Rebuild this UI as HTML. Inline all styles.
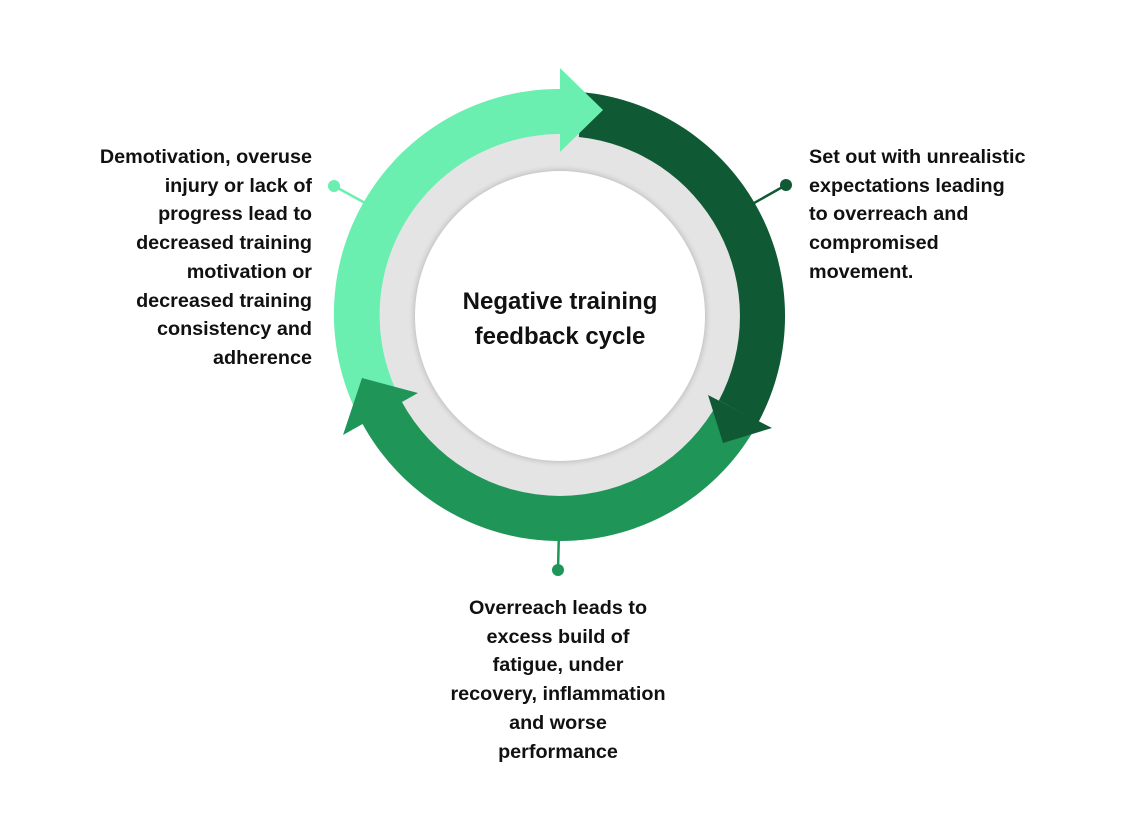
<!DOCTYPE html>
<html><head><meta charset="utf-8"><style>
html,body{margin:0;padding:0;background:#fff;}
body{width:1134px;height:814px;position:relative;overflow:hidden;font-family:"Liberation Sans",Arial,sans-serif;}
.t{position:absolute;font-weight:bold;font-size:19.8px;line-height:28.7px;color:#111;white-space:nowrap;}
</style></head><body>
<svg width="1134" height="814" style="position:absolute;left:0;top:0">
<defs><filter id="sh" x="-20%" y="-20%" width="140%" height="140%"><feGaussianBlur stdDeviation="3"/></filter></defs>
<line x1="334" y1="186" x2="400" y2="222" stroke="#6befb0" stroke-width="2.5"/>
<line x1="786" y1="185" x2="740" y2="211" stroke="#0f5a35" stroke-width="2.5"/>
<line x1="559" y1="530" x2="558" y2="570" stroke="#1f9558" stroke-width="2.5"/>
<circle cx="334" cy="186" r="6" fill="#6befb0"/>
<circle cx="786" cy="185" r="6" fill="#0f5a35"/>
<circle cx="558" cy="570" r="6" fill="#1f9558"/>
<circle cx="560" cy="316" r="184" fill="#e4e4e4"/>
<circle cx="560" cy="316" r="146" fill="#000" opacity="0.18" filter="url(#sh)"/>
<circle cx="560" cy="316" r="145" fill="#fff"/>
<path d="M583.5 92.2 A225 225 0 0 1 758.7 421.6 L718.9 400.5 A180 180 0 0 0 578.8 137 Z" fill="#0f5a35"/>
<path d="M758.7 421.6 A225 225 0 0 1 361.3 421.6 L401.1 400.5 A180 180 0 0 0 718.9 400.5 Z" fill="#1f9558"/>
<path d="M361.3 421.6 A225 225 0 0 1 560 89 L560 134 A181 181 0 0 0 401.1 400.5 Z" fill="#6befb0"/>
<polygon points="708,395 772,428 723,443" fill="#0f5a35"/>
<polygon points="343,435 418,393 362,378" fill="#1f9558"/>
<polygon points="560,68 603,110 560,152" fill="#6befb0"/>
<text x="560" y="309" text-anchor="middle" font-family="Liberation Sans, Arial, sans-serif" font-weight="bold" font-size="24" fill="#111">Negative training</text>
<text x="560" y="344" text-anchor="middle" font-family="Liberation Sans, Arial, sans-serif" font-weight="bold" font-size="24" fill="#111">feedback cycle</text>
</svg>
<div class="t" style="right:822px;top:143px;text-align:right;width:280px;">Demotivation, overuse<br>injury or lack of<br>progress lead to<br>decreased training<br>motivation or<br>decreased training<br>consistency and<br>adherence</div>
<div class="t" style="left:809px;top:143px;text-align:left;width:280px;">Set out with unrealistic<br>expectations leading<br>to overreach and<br>compromised<br>movement.</div>
<div class="t" style="left:408px;top:594px;text-align:center;width:300px;">Overreach leads to<br>excess build of<br>fatigue, under<br>recovery, inflammation<br>and worse<br>performance</div>
</body></html>
